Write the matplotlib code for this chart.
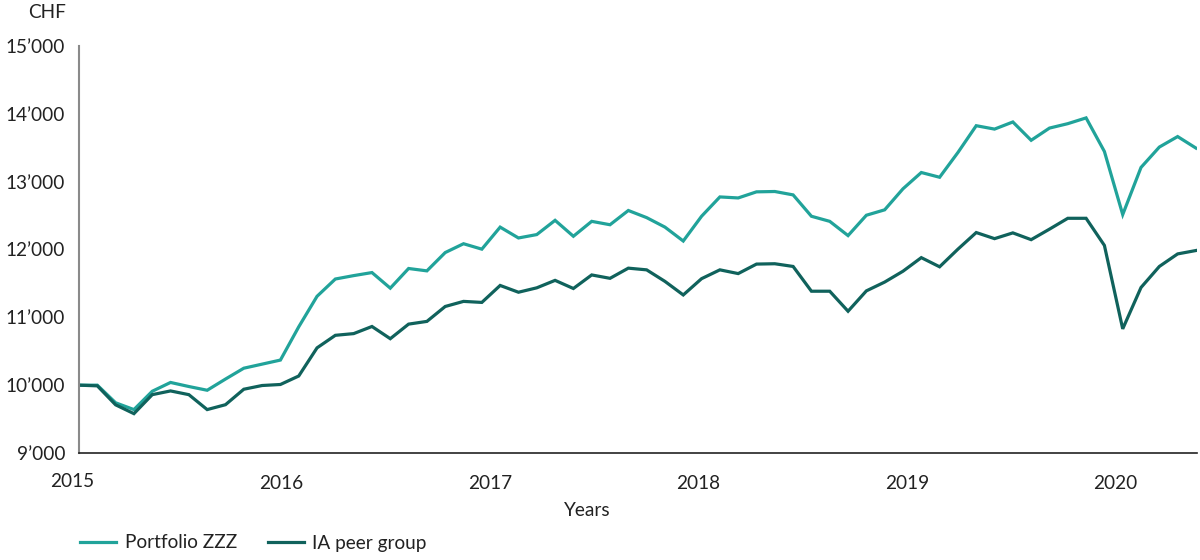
import numpy as np
import matplotlib
matplotlib.use("Agg")
import matplotlib.pyplot as plt
import matplotlib.transforms as mtransforms
from matplotlib.ticker import FuncFormatter

plt.rcParams['font.family'] = ['Lato', 'DejaVu Sans']

# values, one point every ~0.088 year
portfolio = [10000, 10000, 9740, 9640, 9910, 10040, 9980, 9925, 10090, 10250,
             10310, 10370, 10860, 11310, 11565, 11615, 11660, 11430, 11720, 11685,
             11955, 12085, 12005, 12330, 12170, 12220, 12430, 12195, 12415, 12365,
             12575, 12470, 12330, 12125, 12490, 12775, 12760, 12850, 12855, 12805,
             12490, 12415, 12205, 12505, 12585, 12895, 13135, 13065, 13430, 13825,
             13775, 13880, 13610, 13790, 13855, 13940, 13445, 12515, 13210, 13510,
             13665, 13495]
peer = [10000, 9990, 9710, 9580, 9860, 9915, 9860, 9640, 9712, 9940,
        9995, 10010, 10135, 10550, 10735, 10760, 10865, 10685, 10900, 10940,
        11160, 11235, 11220, 11470, 11370, 11435, 11545, 11425, 11625, 11575,
        11725, 11700, 11530, 11330, 11570, 11700, 11645, 11785, 11790, 11750,
        11385, 11385, 11090, 11390, 11520, 11680, 11880, 11745, 12005, 12250,
        12160, 12245, 12145, 12300, 12460, 12460, 12060, 10830, 11440, 11750,
        11935, 11985]
years = [2015, 2016, 2017, 2018, 2019, 2020]
yticks = [9000, 10000, 11000, 12000, 13000, 14000, 15000]
labels = ["Portfolio ZZZ", "IA peer group"]

start = 2015.031
step = 0.08777
x = start + step * np.arange(len(portfolio))

c_port = "#21a39a"
c_peer = "#10625c"
txt = "#222222"
fs = 13.7

fig = plt.figure(figsize=(12, 5.6), dpi=100)
ax = fig.add_axes([79 / 1200, 1 - 453 / 560, (1197 - 79) / 1200, (453 - 46) / 560])

ax.plot(x, portfolio, color=c_port, lw=2.3, label=labels[0], solid_joinstyle="miter")
ax.plot(x, peer, color=c_peer, lw=2.3, label=labels[1], solid_joinstyle="miter")

ax.set_xlim(x[0], x[-1] + 0.005)
ax.set_ylim(9000, 15000)
ax.set_yticks(yticks)
ax.yaxis.set_major_formatter(FuncFormatter(lambda v, p: "{:,.0f}".format(v).replace(",", "\u2019")))
ax.set_xticks(years[1:])
ax.set_xticklabels([str(y) for y in years[1:]])
ax.tick_params(axis="both", length=0, labelsize=fs, colors=txt)
ax.tick_params(axis="x", pad=16)
ax.tick_params(axis="y", pad=10)

# the first year label sits just left of where the data begin
trans = mtransforms.blended_transform_factory(ax.transData, ax.transAxes)
ax.text(years[0], -0.069, str(years[0]), transform=trans, ha="center", va="center",
        fontsize=fs, color=txt, clip_on=False)

for s in ["top", "right"]:
    ax.spines[s].set_visible(False)
ax.spines["left"].set_color("#8a8a8a")
ax.spines["left"].set_linewidth(1.5)
ax.spines["bottom"].set_color("#222222")
ax.spines["bottom"].set_linewidth(1.2)

fig.text(66 / 1200, 1 - 13 / 560, "CHF", ha="right", va="center", fontsize=fs, color=txt)
fig.text(587 / 1200, 1 - 510 / 560, "Years", ha="center", va="center", fontsize=fs, color=txt)

ax.legend(loc="center left", bbox_to_anchor=(63 / 1200, 1 - 543 / 560), bbox_transform=fig.transFigure,
          ncol=2, frameon=False, fontsize=fs, handlelength=1.9, columnspacing=1.6,
          handletextpad=0.45, labelcolor=txt)

fig.savefig("out.png", dpi=100)
